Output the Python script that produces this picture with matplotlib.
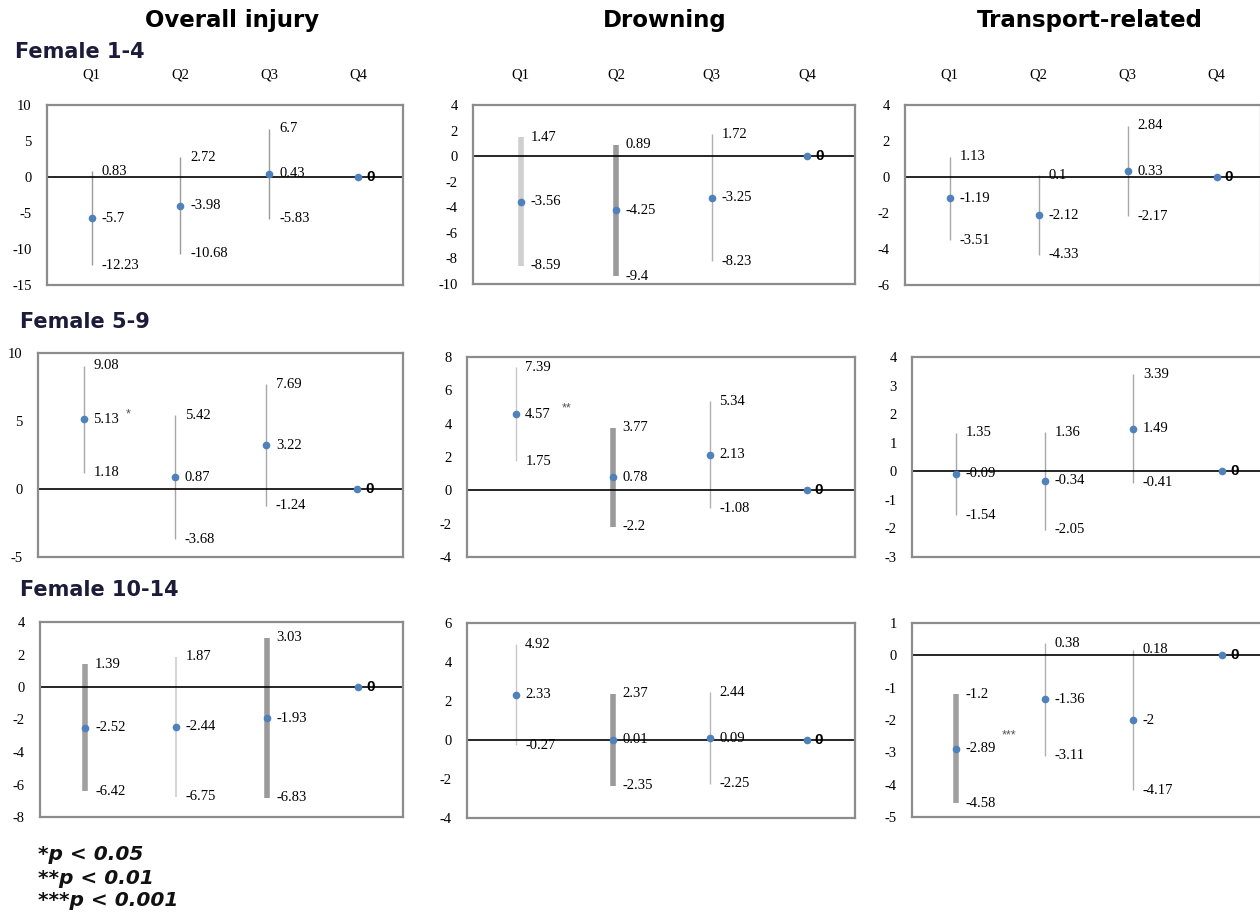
import numpy as np
import matplotlib.pyplot as plt

plt.rcParams['font.family'] = ['Liberation Sans', 'DejaVu Sans']
plt.rcParams['axes.unicode_minus'] = False

quarters = ['Q1', 'Q2', 'Q3', 'Q4']
col_titles = ['Overall injury', 'Drowning', 'Transport-related']
row_titles = ['Female 1-4', 'Female 5-9', 'Female 10-14']

# estimates, lower and upper bounds per panel (row, column)
est = [
    [[-5.7, -3.98, 0.43, 0], [-3.56, -4.25, -3.25, 0], [-1.19, -2.12, 0.33, 0]],
    [[5.13, 0.87, 3.22, 0], [4.57, 0.78, 2.13, 0], [-0.09, -0.34, 1.49, 0]],
    [[-2.52, -2.44, -1.93, 0], [2.33, 0.01, 0.09, 0], [-2.89, -1.36, -2, 0]],
]
lower = [
    [[-12.23, -10.68, -5.83], [-8.59, -9.4, -8.23], [-3.51, -4.33, -2.17]],
    [[1.18, -3.68, -1.24], [1.75, -2.2, -1.08], [-1.54, -2.05, -0.41]],
    [[-6.42, -6.75, -6.83], [-0.27, -2.35, -2.25], [-4.58, -3.11, -4.17]],
]
upper = [
    [[0.83, 2.72, 6.7], [1.47, 0.89, 1.72], [1.13, 0.1, 2.84]],
    [[9.08, 5.42, 7.69], [7.39, 3.77, 5.34], [1.35, 1.36, 3.39]],
    [[1.39, 1.87, 3.03], [4.92, 2.37, 2.44], [-1.2, 0.38, 0.18]],
]
sig = [
    [['', '', ''], ['', '', ''], ['', '', '']],
    [['*', '', ''], ['**', '', ''], ['', '', '']],
    [['', '', ''], ['', '', ''], ['***', '', '']],
]
ylims = [
    [(-15, 10), (-10, 4), (-6, 4)],
    [(-5, 10), (-4, 8), (-3, 4)],
    [(-8, 4), (-4, 6), (-5, 1)],
]
ysteps = [[5, 2, 2], [5, 2, 1], [2, 2, 1]]

# bar styles (width, colour) for the CI lines
bar_lw = [
    [[1, 1, 1], [4, 4, 1], [1, 1, 1]],
    [[1, 1, 1], [1, 4, 1], [1, 1, 1]],
    [[4, 1.5, 4], [1, 4, 1], [4, 1, 1]],
]
bar_col = [
    [['#9a9a9a'] * 3, ['#cfcfcf', '#9a9a9a', '#b0b0b0'], ['#a8a8a8'] * 3],
    [['#a8a8a8'] * 3, ['#c8c8c8', '#9a9a9a', '#b0b0b0'], ['#a8a8a8'] * 3],
    [['#a0a0a0', '#d6d6d6', '#9a9a9a'], ['#c8c8c8', '#9a9a9a', '#b8b8b8'],
     ['#a0a0a0', '#b0b0b0', '#b0b0b0']],
]
# offset (points) of the significance stars from the estimate
sig_off = {(1, 0): (30, -1), (1, 1): (33, 0), (2, 2): (33, 5)}

# axes boxes in pixels: left, top, right, bottom
W, H = 1260, 914
boxes = [
    [(47, 105, 403, 285), (473, 105, 855, 284), (905, 105, 1261, 285)],
    [(38, 353, 403, 557), (467, 357, 855, 557), (912, 357, 1266, 557)],
    [(40, 622, 403, 817), (467, 623, 855, 818), (912, 623, 1266, 817)],
]

fig = plt.figure(figsize=(W / 100, H / 100), dpi=100)
x = np.arange(1, 5)
lab = dict(textcoords='offset points', va='center', fontsize=10.5,
           family='Liberation Serif')

for r in range(3):
    for c in range(3):
        l, t, rt, b = boxes[r][c]
        ax = fig.add_axes([l / W, 1 - b / H, (rt - l) / W, (b - t) / H])
        ax.set_xlim(0.5, 4.5)
        lo, hi = ylims[r][c]
        ax.set_ylim(lo, hi)
        ticks = np.arange(lo, hi + 0.01, ysteps[r][c])
        ax.set_yticks(ticks)
        ax.set_yticklabels([f'{v:g}' for v in ticks], family='Liberation Serif')
        ax.tick_params(axis='y', length=0, labelsize=10.5, pad=11)
        for s in ax.spines.values():
            s.set_color('#8c8c8c')
            s.set_linewidth(1.6)
        if r == 0:
            ax.xaxis.tick_top()
            ax.set_xticks(x)
            ax.set_xticklabels(quarters, fontsize=10.5, family='Liberation Serif')
            ax.tick_params(axis='x', length=0, pad=17)
        else:
            ax.set_xticks([])
        ax.axhline(0, color='black', lw=1.2, zorder=2)

        e = est[r][c]
        for i in range(3):
            ax.plot([x[i], x[i]], [lower[r][c][i], upper[r][c][i]],
                    color=bar_col[r][c][i], lw=bar_lw[r][c][i],
                    solid_capstyle='butt', zorder=1)
            ax.annotate(f'{upper[r][c][i]:g}', (x[i], upper[r][c][i]), xytext=(7, 0), **lab)
            ax.annotate(f'{lower[r][c][i]:g}', (x[i], lower[r][c][i]), xytext=(7, 0), **lab)
            ax.annotate(f'{e[i]:g}', (x[i], e[i]), xytext=(7, 0), **lab)
            if sig[r][c][i]:
                ax.annotate(sig[r][c][i], (x[i], e[i]), xytext=sig_off[(r, c)],
                            textcoords='offset points', va='bottom', fontsize=9,
                            color='#555')
        ax.plot(x, e, 'o', color='#4f81bd', ms=4.5, zorder=3, clip_on=False)
        ax.annotate('0', (x[3], e[3]), xytext=(6, 0), textcoords='offset points',
                    va='center', fontsize=11, fontweight='bold')

for c, title in enumerate(col_titles):
    cx = [232, 665, 1090][c]
    fig.text(cx / W, 1 - 21 / H, title, ha='center', va='center',
             fontsize=16.5, fontweight='bold', family='DejaVu Sans')

for r, title in enumerate(row_titles):
    ry = [52, 322, 590][r]
    rx = [15, 20, 20][r]
    fig.text(rx / W, 1 - ry / H, title, ha='left', va='center',
             fontsize=15, fontweight='bold', color='#1c1c3a', family='DejaVu Sans')

notes = ['*p < 0.05', '**p < 0.01', '***p < 0.001']
for i, n in enumerate(notes):
    fig.text(38 / W, 1 - (855 + 23 * i) / H, n, ha='left', va='center',
             fontsize=14.5, fontweight='bold', fontstyle='italic', color='#111',
             family='DejaVu Sans')

fig.savefig('out.png', dpi=100)
